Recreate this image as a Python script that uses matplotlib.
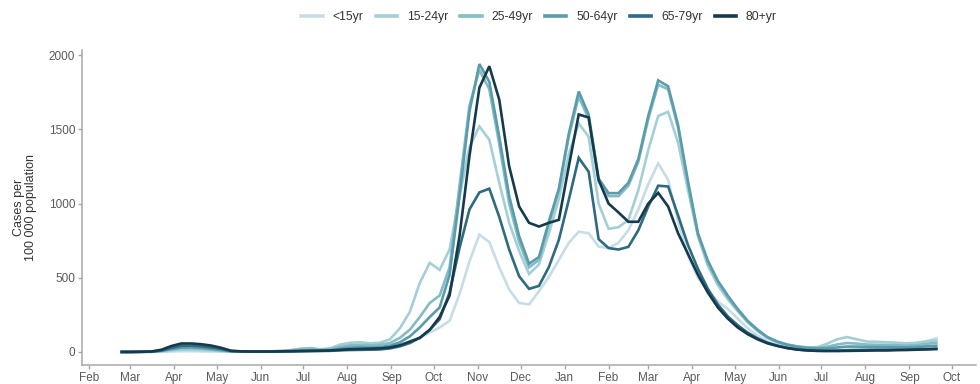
import matplotlib
matplotlib.use("Agg")
import matplotlib.pyplot as plt
import matplotlib.dates as mdates
import pandas as pd

plt.rcParams['font.family'] = ['Liberation Sans', 'DejaVu Sans']

start_date = "2020-02-24"
n_weeks = 83

age_groups = ["<15yr", "15-24yr", "25-49yr", "50-64yr", "65-79yr", "80+yr"]
colors = ["#c6dde8", "#a5cfd7", "#84bcc5", "#5a9cab", "#2e6a80", "#163a4c"]

under15 = [0, 0, 0, 0, 1, 3, 5, 5, 4, 3, 2, 1, 1, 1, 1, 1, 2, 3, 5, 6, 5, 6, 12, 18, 20, 18, 20, 28,
           45, 65, 95, 130, 165, 210, 390, 610, 790, 740, 570, 420, 330, 320, 410, 506, 620, 735,
           810, 800, 710, 700, 735, 820, 960, 1130, 1270, 1160, 880, 650, 500, 410, 340, 290, 225,
           160, 110, 72, 48, 32, 22, 15, 12, 10, 12, 15, 18, 22, 25, 28, 32, 36, 48, 72, 92]
age15_24 = [0, 0, 1, 1, 4, 10, 15, 16, 13, 10, 6, 3, 2, 2, 3, 4, 6, 12, 22, 26, 18, 25, 50, 62, 65,
            58, 62, 85, 160, 270, 465, 600, 553, 690, 1050, 1380, 1520, 1430, 1140, 870, 680, 525,
            590, 800, 1030, 1330, 1540, 1450, 1000, 830, 840, 890, 1090, 1360, 1590, 1618, 1410,
            1090, 780, 580, 450, 355, 275, 200, 140, 95, 65, 45, 35, 30, 32, 55, 85, 100, 85, 70,
            68, 65, 62, 58, 62, 72, 78]
age25_49 = [0, 0, 1, 2, 7, 17, 25, 26, 22, 17, 10, 4, 3, 3, 3, 4, 6, 10, 18, 22, 15, 18, 35, 45, 48,
            45, 48, 60, 95, 150, 235, 330, 380, 570, 1120, 1660, 1900, 1770, 1400, 1000, 740, 570,
            620, 860, 1090, 1450, 1720, 1570, 1150, 1050, 1050, 1120, 1280, 1570, 1800, 1770, 1510,
            1130, 790, 600, 470, 370, 280, 205, 145, 98, 68, 50, 38, 30, 28, 35, 50, 60, 56, 50,
            48, 47, 45, 43, 46, 55, 62]
age50_64 = [0, 0, 1, 2, 8, 20, 30, 31, 27, 21, 13, 5, 3, 2, 2, 3, 4, 5, 8, 10, 10, 12, 22, 30, 32,
            30, 32, 42, 65, 105, 165, 235, 300, 520, 1050, 1620, 1940, 1820, 1450, 1050, 780, 595,
            640, 880, 1100, 1470, 1755, 1600, 1170, 1070, 1070, 1140, 1300, 1590, 1830, 1790, 1530,
            1150, 800, 615, 480, 380, 290, 210, 150, 100, 70, 48, 34, 26, 22, 24, 30, 36, 36, 34,
            33, 32, 31, 31, 33, 38, 42]
age65_79 = [0, 0, 1, 2, 10, 28, 42, 43, 38, 30, 20, 6, 3, 2, 2, 2, 3, 4, 5, 6, 7, 8, 11, 13, 14,
            15, 17, 24, 38, 60, 95, 150, 220, 400, 700, 960, 1075, 1100, 910, 690, 510, 425, 445,
            573, 755, 1025, 1308, 1214, 760, 700, 690, 708, 820, 980, 1120, 1115, 920, 720, 560,
            425, 320, 240, 180, 130, 92, 62, 42, 26, 16, 11, 8, 8, 9, 11, 12, 13, 14, 14, 15, 16,
            18, 20, 22]
age80plus = [0, 0, 1, 3, 15, 40, 57, 57, 52, 43, 28, 8, 4, 3, 3, 3, 4, 5, 6, 7, 8, 10, 14, 18, 20,
             22, 24, 30, 45, 70, 95, 148, 236, 380, 780, 1320, 1780, 1925, 1700, 1250, 980, 870,
             845, 870, 890, 1250, 1600, 1580, 1160, 1000, 940, 877, 877, 1000, 1072, 980, 800, 660,
             520, 400, 300, 225, 165, 120, 85, 58, 40, 26, 16, 10, 7, 6, 6, 7, 8, 9, 10, 10, 12,
             13, 15, 17, 19]

series = [under15, age15_24, age25_49, age50_64, age65_79, age80plus]
dates = pd.date_range(start_date, periods=n_weeks, freq="7D")

fig = plt.figure(figsize=(9.8, 3.84), dpi=100)
ax = fig.add_axes([0.0837, 0.0495, 0.9123, 0.8205])

for vals, lab, col in zip(series, age_groups, colors):
    ax.plot(dates, vals, color=col, lw=1.9, label=lab, solid_joinstyle='miter')

ax.set_xlim(pd.Timestamp("2020-01-27"), pd.Timestamp("2021-10-18"))
ax.set_ylim(-88, 2035)
ax.set_yticks([0, 500, 1000, 1500, 2000])
ax.xaxis.set_major_locator(mdates.MonthLocator())
ax.xaxis.set_major_formatter(mdates.DateFormatter('%b'))

for s in ['top', 'right']:
    ax.spines[s].set_visible(False)
for s in ['left', 'bottom']:
    ax.spines[s].set_color('#a8a8a8')
    ax.spines[s].set_linewidth(1.1)
ax.tick_params(axis='both', colors='#a8a8a8', labelcolor='#5a5a5a', labelsize=8.5,
               length=3, width=1.0, pad=2)

ax.set_ylabel("Cases per\n100 000 population", fontsize=9, color='#333333', linespacing=1.0)
ax.yaxis.set_label_coords(-0.05, 0.5)

leg = fig.legend(loc='center', bbox_to_anchor=(0.55, 0.955), ncol=6, frameon=False,
                 fontsize=8.8, handlelength=1.75, handletextpad=0.8, columnspacing=1.0)
for line in leg.get_lines():
    line.set_linewidth(2.6)
for t in leg.get_texts():
    t.set_color('#333333')

fig.savefig("out.png", dpi=100)
